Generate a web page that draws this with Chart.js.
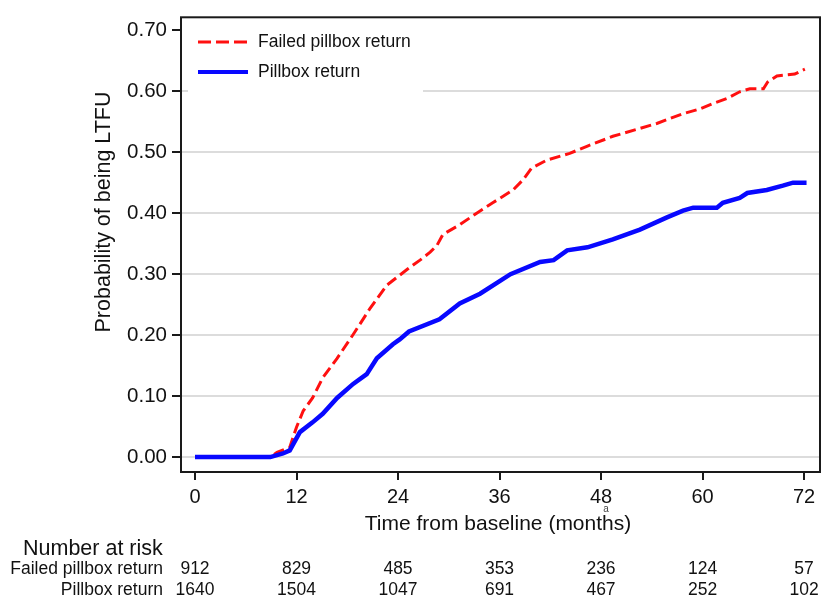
<!DOCTYPE html>
<html>
<head>
<meta charset="utf-8">
<script src="https://cdn.jsdelivr.net/npm/chart.js@4.4.0/dist/chart.umd.min.js"></script>
<style>
  html, body { margin: 0; padding: 0; background: #fff; }
  #wrap { width: 823px; height: 598px; }
</style>
</head>
<body>
<div id="wrap"><canvas id="kmChart" width="823" height="598"></canvas></div>

<script>
// values (months, cumulative probability of LTFU)
const failedMonths = [0, 8.9, 9.7, 11.2, 12.0, 12.8, 13.9, 15.1, 16.8, 18.7, 20.7, 22.7, 25.1, 26.6, 27.8,
    28.6, 29.3, 31.3, 33.3, 35.2, 37.6, 38.8, 39.8, 41.6, 44.3, 46.4, 49.4, 52.6, 54.6, 56.1,
    57.7, 59.7, 61.3, 62.9, 64.4, 65.6, 67.2, 67.7, 68.8, 70.9, 72.1];
const failedProb = [0, 0, 0.008, 0.016, 0.049, 0.076, 0.097, 0.13, 0.162, 0.201, 0.244, 0.282, 0.308, 0.323, 0.336,
    0.347, 0.365, 0.381, 0.40, 0.417, 0.438, 0.455, 0.474, 0.487, 0.498, 0.51, 0.526, 0.539, 0.547, 0.555,
    0.563, 0.571, 0.58, 0.588, 0.599, 0.604, 0.604, 0.615, 0.625, 0.628, 0.636];

const pillboxMonths = [0, 8.9, 10.4, 11.2, 12.4, 13.9, 15.1, 16.8, 18.7, 20.3, 21.5, 23.4, 24.2, 25.3, 28.9,
    31.3, 33.7, 37.3, 40.8, 42.4, 44.0, 46.4, 49.4, 52.6, 55.8, 57.7, 58.9, 61.7, 62.4, 64.4,
    65.3, 67.6, 69.5, 70.7, 72.3];
const pillboxProb = [0, 0, 0.006, 0.011, 0.041, 0.057, 0.071, 0.097, 0.12, 0.136, 0.162, 0.185, 0.193, 0.206, 0.226,
    0.252, 0.268, 0.30, 0.32, 0.323, 0.339, 0.344, 0.357, 0.373, 0.393, 0.404, 0.409, 0.409, 0.417, 0.425,
    0.433, 0.438, 0.445, 0.45, 0.45];

const xTicks = [0, 12, 24, 36, 48, 60, 72];
const yTicks = [0, 0.1, 0.2, 0.3, 0.4, 0.5, 0.6, 0.7];

const seriesNames = ['Failed pillbox return', 'Pillbox return'];
const riskFailed = [912, 829, 485, 353, 236, 124, 57];
const riskPillbox = [1640, 1504, 1047, 691, 467, 252, 102];

const FONT = '"Liberation Sans", Arial, Helvetica, sans-serif';

function toPoints(xs, ys) {
    return xs.map(function (x, i) { return { x: x, y: ys[i] }; });
}

// frame, legend box, axis titles and the number-at-risk table
const extras = {
    id: 'extras',
    beforeDatasetsDraw: function (chart) {
        const ctx = chart.ctx;
        const a = chart.chartArea;
        ctx.save();
        ctx.fillStyle = '#fff';
        ctx.fillRect(a.left + 7, a.top + 2, 423 - a.left - 7, 91 - a.top);
        ctx.restore();
    },
    afterDraw: function (chart) {
        const ctx = chart.ctx;
        const a = chart.chartArea;
        const xs = chart.scales.x;
        ctx.save();

        // plot frame
        ctx.strokeStyle = '#1a1a1a';
        ctx.lineWidth = 2;
        ctx.strokeRect(a.left, a.top, a.right - a.left, a.bottom - a.top);

        // legend
        ctx.lineWidth = 3;
        ctx.strokeStyle = '#ff1010';
        ctx.setLineDash([13, 5]);
        ctx.beginPath(); ctx.moveTo(198, 42); ctx.lineTo(248, 42); ctx.stroke();
        ctx.setLineDash([]);
        ctx.lineWidth = 4;
        ctx.strokeStyle = '#0808ff';
        ctx.beginPath(); ctx.moveTo(198, 72); ctx.lineTo(248, 72); ctx.stroke();

        ctx.fillStyle = '#111';
        ctx.textAlign = 'left';
        ctx.textBaseline = 'middle';
        ctx.font = '17.5px ' + FONT;
        ctx.fillText(seriesNames[0], 258, 42);
        ctx.fillText(seriesNames[1], 258, 72);

        // y title
        ctx.save();
        ctx.translate(104, 212);
        ctx.rotate(-Math.PI / 2);
        ctx.textAlign = 'center';
        ctx.font = '21.5px ' + FONT;
        ctx.fillText('Probability of being LTFU', 0, 0);
        ctx.restore();

        // x title and footnote mark
        ctx.textAlign = 'center';
        ctx.textBaseline = 'alphabetic';
        ctx.font = '21px ' + FONT;
        ctx.fillText('Time from baseline (months)', 498, 530);
        ctx.font = '10px ' + FONT;
        ctx.fillStyle = '#444';
        ctx.fillText('a', xs.getPixelForValue(48) + 5, 512);

        // number at risk
        ctx.fillStyle = '#111';
        ctx.textAlign = 'left';
        ctx.font = '21.5px ' + FONT;
        ctx.fillText('Number at risk', 23, 555);
        ctx.textAlign = 'right';
        ctx.font = '17.5px ' + FONT;
        ctx.fillText(seriesNames[0], 163, 574);
        ctx.fillText(seriesNames[1], 163, 595);
        ctx.textAlign = 'center';
        ctx.font = '17.5px ' + FONT;
        xTicks.forEach(function (m, i) {
            const px = xs.getPixelForValue(m);
            ctx.fillText(String(riskFailed[i]), px, 574);
            ctx.fillText(String(riskPillbox[i]), px, 595);
        });
        ctx.restore();
    }
};

const config = {
    type: 'line',
    data: {
        datasets: [{
            label: seriesNames[0],
            data: toPoints(failedMonths, failedProb),
            borderColor: '#ff1010',
            borderWidth: 3,
            borderDash: [11, 5],
            pointRadius: 0,
            tension: 0,
            order: 1
        },
        {
            label: seriesNames[1],
            data: toPoints(pillboxMonths, pillboxProb),
            borderColor: '#0808ff',
            borderWidth: 4.5,
            pointRadius: 0,
            tension: 0,
            order: 0
        }]
    },
    options: {
        responsive: false,
        animation: false,
        layout: { padding: { left: 0, top: 13, right: 3, bottom: 0 } },
        plugins: {
            legend: { display: false },
            tooltip: { enabled: false }
        },
        scales: {
            x: {
                type: 'linear',
                min: -1.655,
                max: 73.89,
                afterBuildTicks: function (scale) {
                    scale.ticks = xTicks.map(function (v) { return { value: v }; });
                },
                afterFit: function (scale) { scale.height = 126; },
                border: { display: false },
                grid: {
                    drawOnChartArea: false,
                    drawTicks: true,
                    tickLength: 8,
                    tickColor: '#1a1a1a',
                    lineWidth: 2
                },
                ticks: {
                    color: '#111',
                    font: { family: FONT, size: 20 },
                    padding: 5,
                    maxRotation: 0,
                    callback: function (v) { return String(v); }
                }
            },
            y: {
                type: 'linear',
                min: -0.0244,
                max: 0.7211,
                afterBuildTicks: function (scale) {
                    scale.ticks = yTicks.map(function (v) { return { value: v }; });
                },
                afterFit: function (scale) { scale.width = 181; },
                border: { display: false },
                grid: {
                    color: function (c) {
                        return (c.tick && c.tick.value > 0.65) ? 'rgba(0,0,0,0)' : '#dcdcdc';
                    },
                    lineWidth: 2,
                    tickLength: 9,
                    tickColor: '#1a1a1a'
                },
                ticks: {
                    color: '#111',
                    font: { family: FONT, size: 20.5 },
                    padding: 5,
                    callback: function (v) { return Number(v).toFixed(2); }
                }
            }
        }
    },
    plugins: [extras]
};

var chart = new Chart(document.getElementById('kmChart'), config);
</script>
</body>
</html>
